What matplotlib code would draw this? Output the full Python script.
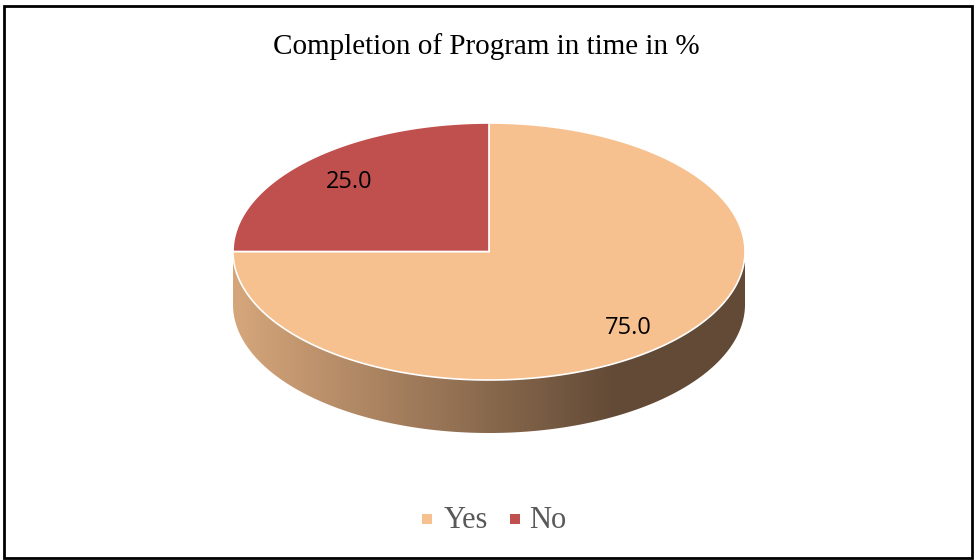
import numpy as np
import matplotlib
matplotlib.use("Agg")
import matplotlib.pyplot as plt
from matplotlib.patches import Polygon, Rectangle
from matplotlib.colors import LinearSegmentedColormap

# data
labels = ["Yes", "No"]
values = [75.0, 25.0]
colors = ["#f7c08f", "#c0504d"]
side_dark = ["#624a36", "#5a2624"]
side_light = ["#d6a67b", "#b04a47"]
title = "Completion of Program in time in %"

W, H = 974, 560
fig = plt.figure(figsize=(W / 100, H / 100), dpi=100)
ax = fig.add_axes([0, 0, 1, 1])
ax.set_xlim(0, W)
ax.set_ylim(H, 0)
ax.axis("off")

# pie geometry (pixels)
cx, cy = 489, 251.5
rx, ry = 256, 128.5
depth = 53


def pt(deg, dy=0):
    a = np.radians(deg)
    return cx + rx * np.cos(a), cy - ry * np.sin(a) + dy


# wedge angles: start at 12 o'clock, clockwise
total = sum(values)
angles = []
start = 90.0
for v in values:
    end = start - 360.0 * v / total
    angles.append((start, end))
    start = end

# side walls (front half only: 180..360 deg)
for i, (a0, a1) in enumerate(angles):
    lo, hi = min(a0, a1), max(a0, a1)
    for shift in (0, 360, -360):
        s, e = max(lo + shift, 180), min(hi + shift, 360)
        if e <= s:
            continue
        t = np.linspace(s, e, 200)
        top = [pt(d) for d in t]
        bot = [pt(d, depth) for d in t[::-1]]
        poly = Polygon(top + bot, closed=True, facecolor="none", edgecolor="none")
        ax.add_patch(poly)
        cmap = LinearSegmentedColormap.from_list("side", [side_light[i], side_dark[i]])
        grad = np.linspace(0, 1, 256).reshape(1, -1)
        grad = np.clip(grad / 0.75, 0, 1)
        im = ax.imshow(grad, cmap=cmap, extent=(cx - rx, cx + rx, cy + depth + ry + 2, cy - 2),
                       aspect="auto", zorder=1, interpolation="bilinear")
        im.set_clip_path(poly)

# top faces
for i, (a0, a1) in enumerate(angles):
    t = np.linspace(a0, a1, 300)
    verts = [(cx, cy)] + [pt(d) for d in t]
    ax.add_patch(Polygon(verts, closed=True, facecolor=colors[i], edgecolor="white",
                         linewidth=1.2, zorder=2, joinstyle="miter"))

# data labels
ax.text(349, 182, "25.0", fontsize=17, family="Open Sans", ha="center", va="center", zorder=3)
ax.text(628, 328, "75.0", fontsize=17, family="Open Sans", ha="center", va="center", zorder=3)

# title
ax.text(486, 47, title, fontsize=21, family="Liberation Serif", ha="center", va="center")

# legend
leg_y = 519
ax.add_patch(Rectangle((422, leg_y - 5), 10, 10, facecolor=colors[0], edgecolor="none"))
ax.text(444, leg_y + 2, labels[0], fontsize=22, family="Liberation Serif", color="#595959",
        ha="left", va="center")
ax.add_patch(Rectangle((510, leg_y - 5), 10, 10, facecolor=colors[1], edgecolor="none"))
ax.text(529, leg_y + 2, labels[1], fontsize=22, family="Liberation Serif", color="#595959",
        ha="left", va="center")

# chart border
ax.add_patch(Rectangle((4, 6), 968, 552, facecolor="none", edgecolor="black", linewidth=2))

fig.savefig("out.png", dpi=100)
